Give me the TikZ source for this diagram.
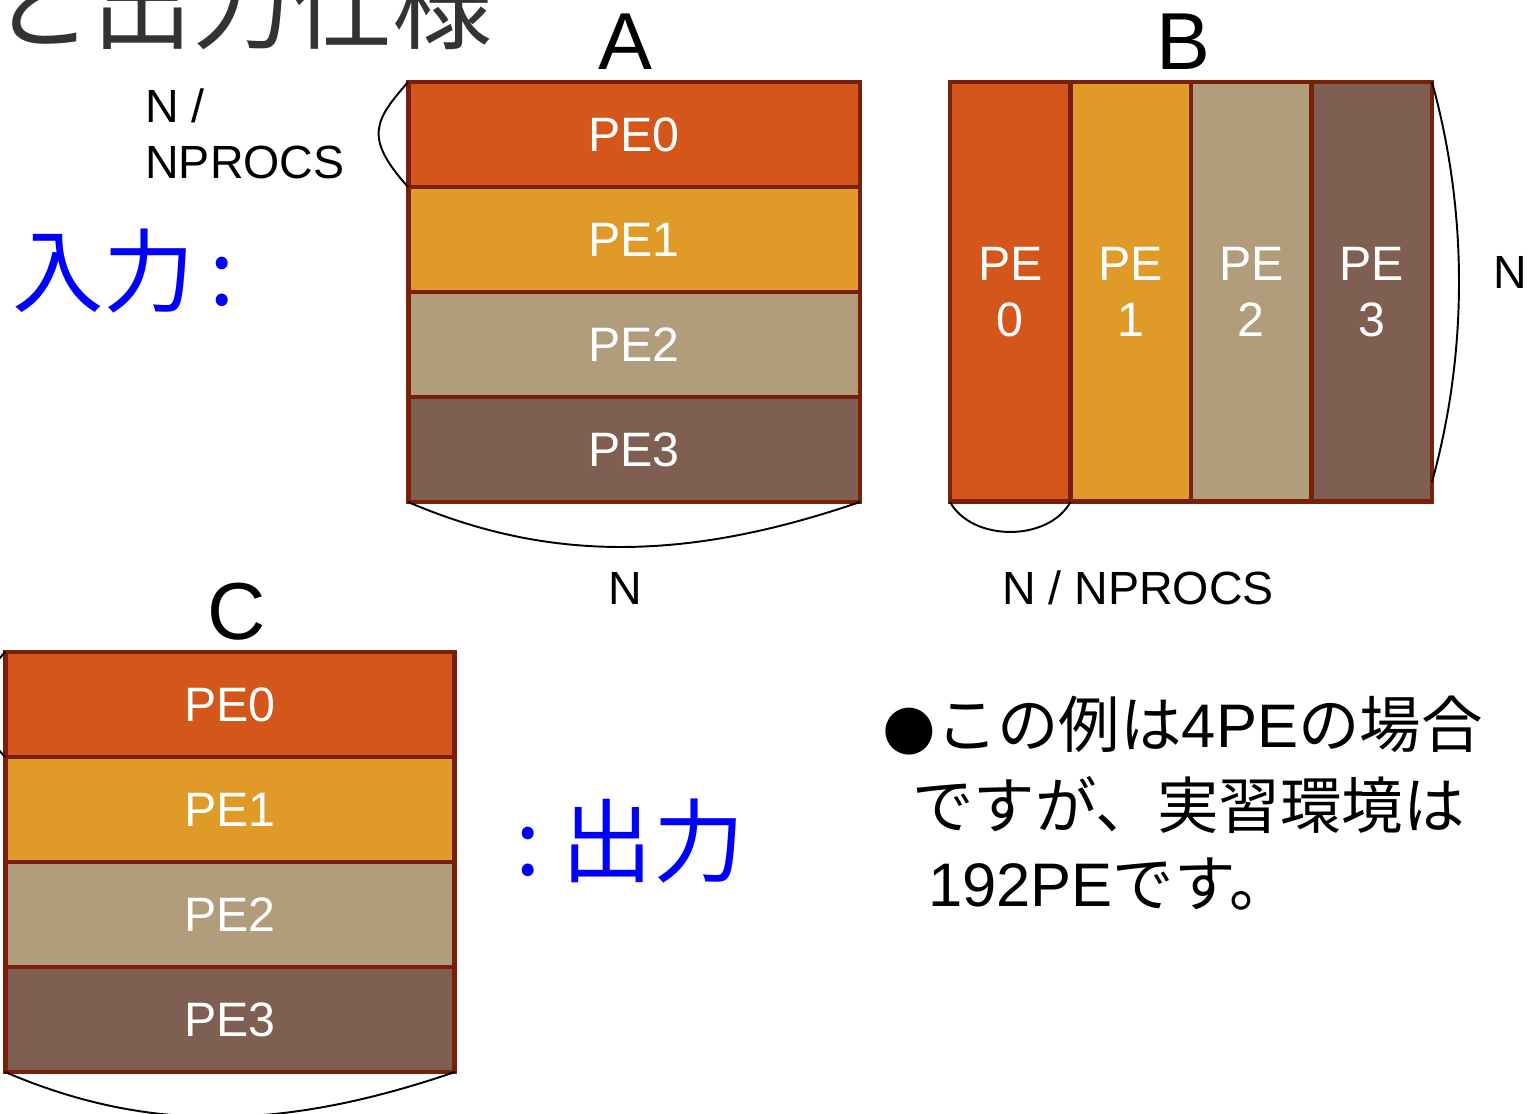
\documentclass[tikz,border=0pt]{standalone}
\usepackage{fontspec}
\setmainfont{Liberation Sans}
\newfontfamily\cjk{Noto Sans CJK JP}
\newfontfamily\sym{DejaVu Sans}
\definecolor{pezero}{RGB}{212,86,26}
\definecolor{peone}{RGB}{224,154,40}
\definecolor{petwo}{RGB}{177,156,124}
\definecolor{pethree}{RGB}{126,95,82}
\definecolor{rim}{RGB}{123,32,8}
\definecolor{title}{RGB}{51,51,51}
\begin{document}
\begin{tikzpicture}[x=0.02cm,y=-0.02cm,
  cell/.style={draw=rim,line width=2.8pt,text=white,outer sep=0pt,font=\fontsize{27.5}{32}\selectfont},
  brace/.style={line width=1.1pt},
  big/.style={font=\fontsize{46}{54}\selectfont},
  lbl/.style={font=\fontsize{26.5}{32}\selectfont},
  io/.style={anchor=west,inner sep=0pt,text=blue,font=\cjk\fontsize{52}{60}\selectfont},
  jp/.style={anchor=base west,inner sep=0pt,font=\cjk\fontsize{35}{40}\selectfont}]
\useasboundingbox (0,0) rectangle (1536,1114);
\node[anchor=base west,inner sep=0pt,text=title,font=\cjk\fontsize{57}{60}\selectfont] (ttl) at (-8,42) {と出力仕様};
% A: rows, B: columns, C: rows
\foreach \i/\c in {0/pezero,1/peone,2/petwo,3/pethree}{
  \node[cell,fill=\c,minimum width=9.04cm,minimum height=2.1cm] (a\i) at (634,134.5+105*\i) {PE\i};
  \node[cell,fill=\c,minimum width=2.41cm,minimum height=8.4cm,align=center] (b\i) at (1010.25+120.5*\i,292) {PE\\\i};
  \node[cell,fill=\c,minimum width=9cm,minimum height=2.1cm] (c\i) at (230,704.5+105*\i) {PE\i};
}
\node[big] (ta) at (625,42) {A};
\node[big] (tb) at (1183,42) {B};
\node[big] (tc) at (237,612) {C};
% braces
\draw[brace] (a0.north west) .. controls +(-33,38) and +(-45,-50) .. (a0.south west);
\draw[brace] (a3.south west) .. controls +(140,60) and +(-175,60) .. (a3.south east);
\coordinate (bend) at (1432,482);
\draw[brace] (b3.north east) .. controls +(36,130) and +(36,-130) .. (bend);
\draw[brace] (b0.south west) .. controls +(22,40) and +(-22,40) .. (b0.south east);
\draw[brace] (c0.north west) .. controls +(-33,38) and +(-45,-50) .. (c0.south west);
\draw[brace] (c3.south west) .. controls +(140,60) and +(-175,60) .. (c3.south east);
\node[lbl,anchor=north west,align=left,inner sep=0pt] (nfrac) at (145,88) {N /\\NPROCS};
\node[lbl] (na) at (625,588) {N};
\node[lbl] (nb) at (1510,272) {N};
\node[lbl] (nbw) at (1138,588) {N / NPROCS};
\node[io] (inp) at (12,271) {入力\kern8pt:};
\node[io] (outp) at (515,841) {:\kern12pt 出力};
\node[jp] (l1) at (882,748) {{\sym ●}この例は{\rmfamily 4PE}の場合};
\node[jp] (l2) at (912,828) {ですが、実習環境は};
\node[jp] (l3) at (928,907) {{\rmfamily 192PE}です。};
\end{tikzpicture}
\end{document}
